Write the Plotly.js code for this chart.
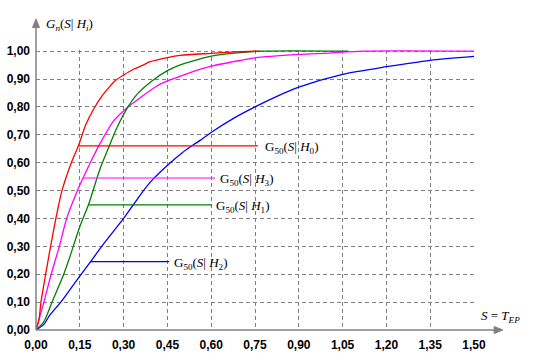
<!DOCTYPE html>
<html><head><meta charset="utf-8">
<script src="https://cdn.plot.ly/plotly-3.0.1.min.js"></script>
<style>html,body{margin:0;padding:0;background:#fff}#chart{width:540px;height:360px}</style>
</head><body><div id="chart"></div>
<script>
// Curve G50(S|H0) - red
const h0X = [0, 0.010, 0.017, 0.033, 0.050, 0.068, 0.078, 0.089, 0.121, 0.145, 0.170, 0.200, 0.225, 0.250, 0.270, 0.300, 0.334, 0.367, 0.391, 0.450, 0.494, 0.600, 0.680, 0.767];
const h0Y = [0, 0.036, 0.10, 0.20, 0.30, 0.40, 0.45, 0.50, 0.60, 0.66, 0.735, 0.797, 0.838, 0.870, 0.893, 0.914, 0.935, 0.950, 0.962, 0.977, 0.985, 0.992, 0.997, 1.0];
// Curve G50(S|H1) - green
const h1X = [0, 0.027, 0.055, 0.095, 0.112, 0.150, 0.180, 0.220, 0.255, 0.277, 0.312, 0.346, 0.397, 0.450, 0.494, 0.528, 0.600, 0.680, 0.770, 1.070];
const h1Y = [0, 0.03, 0.10, 0.20, 0.25, 0.37, 0.45, 0.58, 0.67, 0.725, 0.795, 0.845, 0.893, 0.930, 0.951, 0.962, 0.982, 0.993, 1.0, 1.0];
// Curve G50(S|H2) - blue
const h2X = [0, 0.027, 0.045, 0.085, 0.120, 0.155, 0.187, 0.225, 0.300, 0.334, 0.368, 0.400, 0.460, 0.500, 0.539, 0.562, 0.602, 0.675, 0.750, 0.825, 0.900, 1.050, 1.200, 1.350, 1.500];
const h2Y = [0, 0.02, 0.05, 0.10, 0.15, 0.20, 0.245, 0.30, 0.40, 0.45, 0.50, 0.54, 0.60, 0.635, 0.664, 0.680, 0.710, 0.758, 0.80, 0.838, 0.871, 0.917, 0.944, 0.967, 0.981];
// Curve G50(S|H3) - magenta
const h3X = [0, 0.027, 0.052, 0.080, 0.105, 0.142, 0.161, 0.186, 0.220, 0.266, 0.312, 0.357, 0.414, 0.450, 0.494, 0.528, 0.600, 0.675, 0.750, 0.900, 1.000, 1.120, 1.500];
const h3Y = [0, 0.10, 0.20, 0.30, 0.40, 0.50, 0.545, 0.60, 0.67, 0.75, 0.797, 0.833, 0.875, 0.893, 0.910, 0.923, 0.946, 0.962, 0.976, 0.988, 0.993, 1.0, 1.0];

// Leader lines for labels [x start, x end], y level
const labelNames = ['G<sub>50</sub>(<i>S</i>| <i>H</i><sub>0</sub>)', 'G<sub>50</sub>(<i>S</i>| <i>H</i><sub>3</sub>)', 'G<sub>50</sub>(<i>S</i>| <i>H</i><sub>1</sub>)', 'G<sub>50</sub>(<i>S</i>| <i>H</i><sub>2</sub>)'];
const leaderX = [[0.145, 0.760], [0.161, 0.613], [0.180, 0.603], [0.187, 0.456]];
const leaderY = [0.660, 0.545, 0.449, 0.245];
const labelX = [0.777, 0.624, 0.611, 0.467];
const labelColors = ['#ff0000', '#ff00ff', '#008000', '#0000ff'];

const xTicks = [0, 0.15, 0.30, 0.45, 0.60, 0.75, 0.90, 1.05, 1.20, 1.35, 1.50];
const xTickText = ['0,00','0,15','0,30','0,45','0,60','0,75','0,90','1,05','1,20','1,35','1,50'];
const yTicks = [0, 0.1, 0.2, 0.3, 0.4, 0.5, 0.6, 0.7, 0.8, 0.9, 1.0];
const yTickText = ['0,00','0,10','0,20','0,30','0,40','0,50','0,60','0,70','0,80','0,90','1,00'];

const lw = 1.3;
const sp = {shape: 'spline', smoothing: 0.7};
const traces = [
  {x: h2X, y: h2Y, mode: 'lines', line: Object.assign({color: '#0000ff', width: lw}, sp)},
  {x: h3X, y: h3Y, mode: 'lines', line: Object.assign({color: '#ff00ff', width: lw}, sp)},
  {x: h1X, y: h1Y, mode: 'lines', line: Object.assign({color: '#008000', width: lw}, sp)},
  {x: h0X, y: h0Y, mode: 'lines', line: Object.assign({color: '#ff0000', width: lw}, sp)},
];
for (let i = 0; i < leaderY.length; i++) {
  traces.push({x: leaderX[i], y: [leaderY[i], leaderY[i]], mode: 'lines', line: {color: labelColors[i], width: 1.2}});
}

const serif = {family: 'Liberation Serif, Times New Roman, serif', size: 13, color: '#000'};
const annotations = labelNames.map((t, i) => ({
  x: labelX[i], y: leaderY[i] - 0.006, xref: 'x', yref: 'y', text: t, showarrow: false,
  xanchor: 'left', yanchor: 'middle', font: serif
}));
annotations.push({x: 0.018, y: 1.09, xref: 'paper', yref: 'paper', xanchor: 'left', yanchor: 'middle',
  text: '<i>G<sub>n</sub></i>(<i>S</i>| <i>H<sub>i</sub></i>)', showarrow: false, font: serif});
annotations.push({x: 1.012, y: 0.05, xref: 'paper', yref: 'paper', xanchor: 'left', yanchor: 'middle',
  text: '<i>S</i> = <i>T<sub>EP</sub></i>', showarrow: false, font: serif});

const gray = '#808080';
const shapes = [
  {type: 'line', xref: 'paper', yref: 'paper', x0: 0, x1: 0, y0: 0, y1: 1.09, line: {color: gray, width: 1.5}, layer: 'above'},
  {type: 'line', xref: 'paper', yref: 'paper', x0: 0, x1: 1.05, y0: 0, y1: 0, line: {color: gray, width: 1.5}, layer: 'above'},
  {type: 'path', xref: 'paper', yref: 'paper', path: 'M -0.008 1.080 L 0 1.111 L 0.008 1.080 Z', fillcolor: gray, line: {color: gray, width: 1}, layer: 'above'},
  {type: 'path', xref: 'paper', yref: 'paper', path: 'M 1.046 -0.0125 L 1.066 0 L 1.046 0.0125 Z', fillcolor: gray, line: {color: gray, width: 1}, layer: 'above'},
];

const tickFont = {family: 'Liberation Sans, Arial, sans-serif', size: 12, color: '#000', weight: 'bold'};
const layout = {
  width: 540, height: 360,
  margin: {l: 36, r: 66, t: 50, b: 30, pad: 0},
  paper_bgcolor: '#fff', plot_bgcolor: '#fff',
  showlegend: false,
  xaxis: {range: [0, 1.5], tickvals: xTicks, ticktext: xTickText, showgrid: true, gridcolor: gray, griddash: '4px,3px', gridwidth: 1,
    zeroline: false, showline: false, ticks: '', tickfont: tickFont, ticklabelstandoff: 6, fixedrange: true},
  yaxis: {range: [0, 1.004], tickvals: yTicks, ticktext: yTickText, showgrid: true, gridcolor: gray, griddash: '4px,3px', gridwidth: 1,
    zeroline: false, showline: false, ticks: '', tickfont: tickFont, ticklabelstandoff: 5, fixedrange: true},
  annotations: annotations,
  shapes: shapes
};
Plotly.newPlot('chart', traces, layout, {staticPlot: true, displayModeBar: false});
</script></body></html>
